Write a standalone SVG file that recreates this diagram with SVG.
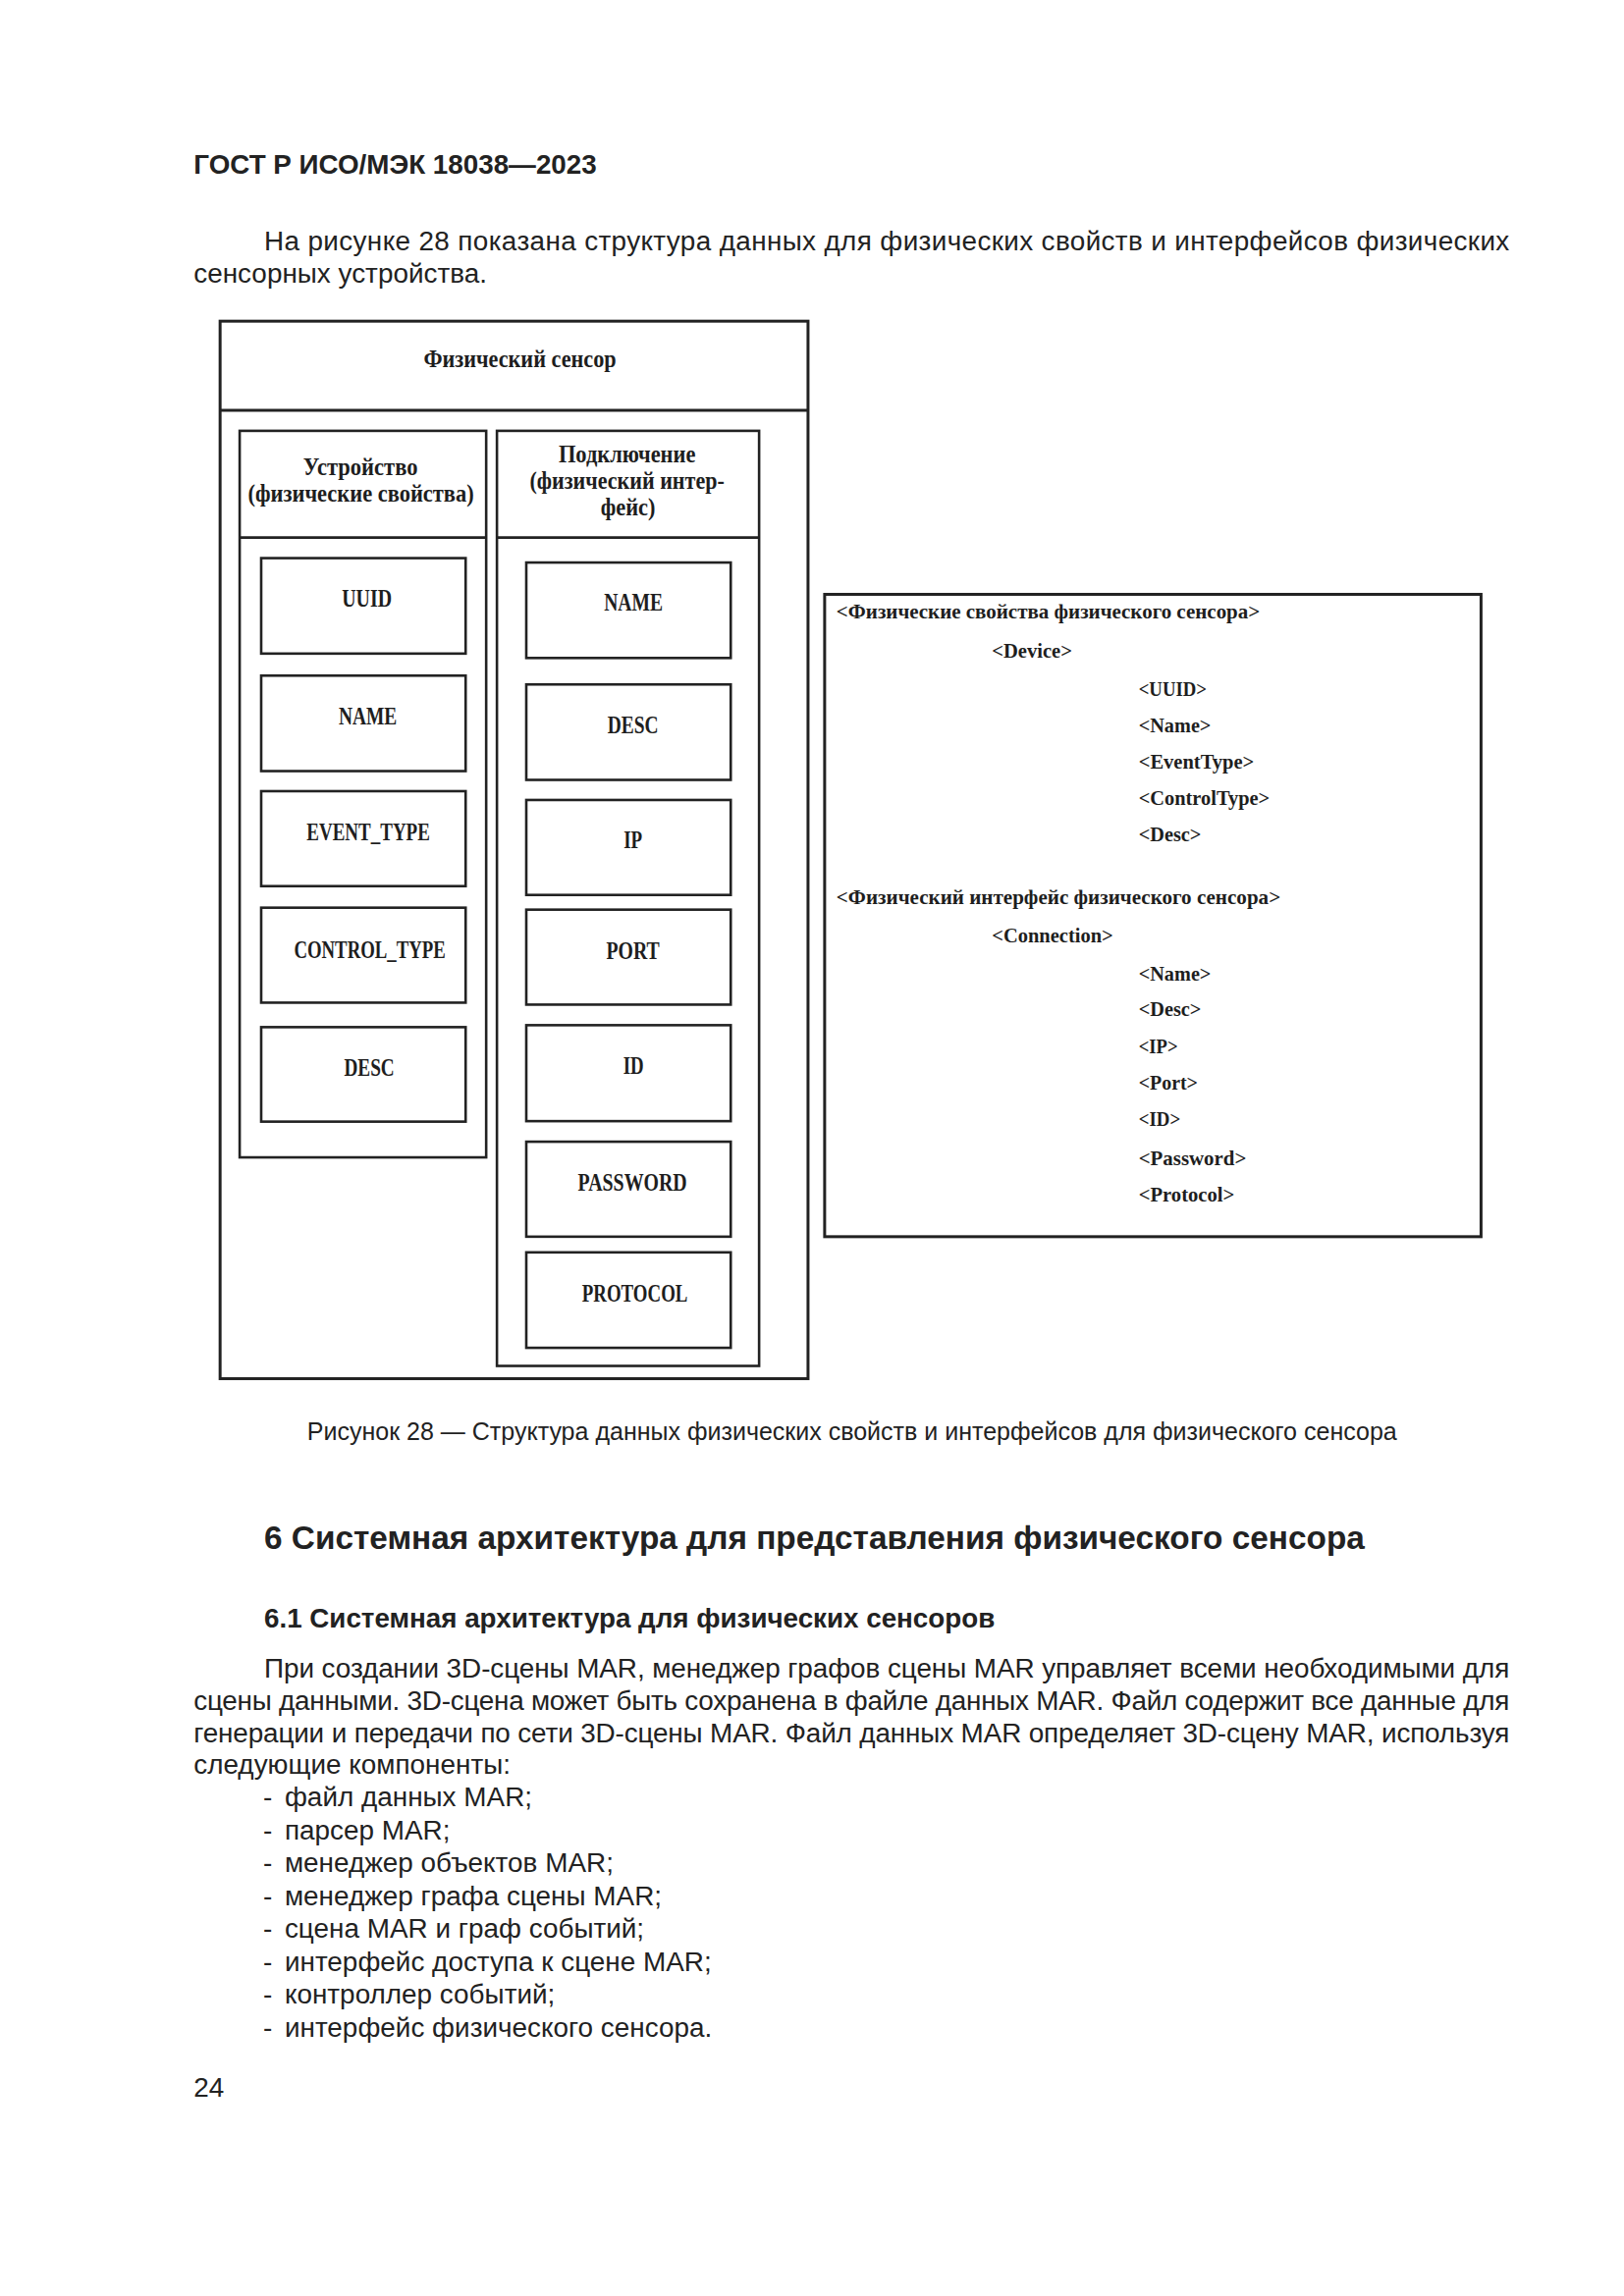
<svg xmlns="http://www.w3.org/2000/svg" width="1654" height="2339" viewBox="0 0 1654 2339">
<style>
.bg{fill:#ffffff}
.box{fill:none;stroke:#222;stroke-width:2.6}
.obox{fill:none;stroke:#222;stroke-width:3}
.dt{font-family:"Liberation Serif","DejaVu Serif",serif;font-weight:bold;font-size:24.5px;fill:#1e1e1e;text-anchor:middle}
.xt{font-family:"Liberation Serif","DejaVu Serif",serif;font-weight:bold;font-size:21.5px;fill:#1e1e1e}
.body{font-family:"Liberation Sans",Arial,sans-serif;font-size:28px;fill:#222}
.bold{font-weight:bold}
.cap{font-family:"Liberation Sans",Arial,sans-serif;font-size:25px;fill:#222;text-anchor:middle}
.h1{font-family:"Liberation Sans",Arial,sans-serif;font-size:33.5px;font-weight:bold;fill:#222}
</style>
<rect class="bg" x="0" y="0" width="1654" height="2339"/>
<g transform="scale(0.9963 0.9975)">
<g id="page-text">
<text class="body bold" x="198" y="177" textLength="412" lengthAdjust="spacingAndGlyphs">ГОСТ Р ИСО/МЭК 18038—2023</text>
<text class="body" x="270" y="256" textLength="1273" lengthAdjust="spacing">На рисунке 28 показана структура данных для физических свойств и интерфейсов физических</text>
<text class="body" x="198" y="289">сенсорных устройства.</text>
</g>

<g id="physical-sensor">
<rect class="obox" x="225" y="328" width="601" height="1080"/>
<line class="obox" x1="225" y1="419" x2="826" y2="419"/>
<text class="dt" x="531.5" y="375" textLength="197" lengthAdjust="spacingAndGlyphs">Физический сенсор</text>
</g>

<g id="device">
<rect class="box" x="245" y="440" width="252" height="742"/>
<line class="box" x1="245" y1="549" x2="497" y2="549"/>
<text class="dt" x="368.5" y="485" textLength="117" lengthAdjust="spacingAndGlyphs">Устройство</text>
<text class="dt" x="369" y="512" textLength="231" lengthAdjust="spacingAndGlyphs">(физические свойства)</text>
</g>
<g id="device-uuid">
<rect class="box" x="267" y="570" width="209" height="97.5"/>
<text class="dt" x="375" y="620" textLength="51" lengthAdjust="spacingAndGlyphs">UUID</text>
</g>
<g id="device-name">
<rect class="box" x="267" y="690" width="209" height="97.5"/>
<text class="dt" x="376" y="740" textLength="59.5" lengthAdjust="spacingAndGlyphs">NAME</text>
</g>
<g id="device-event-type">
<rect class="box" x="267" y="808" width="209" height="97"/>
<text class="dt" x="376.5" y="858" textLength="126" lengthAdjust="spacingAndGlyphs">EVENT_TYPE</text>
</g>
<g id="device-control-type">
<rect class="box" x="267" y="927" width="209" height="97"/>
<text class="dt" x="378" y="978" textLength="155" lengthAdjust="spacingAndGlyphs">CONTROL_TYPE</text>
</g>
<g id="device-desc">
<rect class="box" x="267" y="1049" width="209" height="96.5"/>
<text class="dt" x="377.5" y="1099" textLength="51.5" lengthAdjust="spacingAndGlyphs">DESC</text>
</g>

<g id="connection">
<rect class="box" x="508" y="440" width="268" height="955"/>
<line class="box" x1="508" y1="549" x2="776" y2="549"/>
<text class="dt" x="641" y="472" textLength="140" lengthAdjust="spacingAndGlyphs">Подключение</text>
<text class="dt" x="641" y="499" textLength="199" lengthAdjust="spacingAndGlyphs">(физический интер-</text>
<text class="dt" x="642" y="526" textLength="56" lengthAdjust="spacingAndGlyphs">фейс)</text>
</g>
<g id="conn-name">
<rect class="box" x="538" y="574.5" width="209" height="97.5"/>
<text class="dt" x="647.5" y="624" textLength="60" lengthAdjust="spacingAndGlyphs">NAME</text>
</g>
<g id="conn-desc">
<rect class="box" x="538" y="699" width="209" height="97.5"/>
<text class="dt" x="647" y="749" textLength="52" lengthAdjust="spacingAndGlyphs">DESC</text>
</g>
<g id="conn-ip">
<rect class="box" x="538" y="817" width="209" height="97"/>
<text class="dt" x="647" y="866" textLength="19" lengthAdjust="spacingAndGlyphs">IP</text>
</g>
<g id="conn-port">
<rect class="box" x="538" y="929" width="209" height="97"/>
<text class="dt" x="647" y="979" textLength="54.5" lengthAdjust="spacingAndGlyphs">PORT</text>
</g>
<g id="conn-id">
<rect class="box" x="538" y="1047" width="209" height="98"/>
<text class="dt" x="647.5" y="1097" textLength="21" lengthAdjust="spacingAndGlyphs">ID</text>
</g>
<g id="conn-password">
<rect class="box" x="538" y="1166" width="209" height="97"/>
<text class="dt" x="646.5" y="1216" textLength="111.5" lengthAdjust="spacingAndGlyphs">PASSWORD</text>
</g>
<g id="conn-protocol">
<rect class="box" x="538" y="1279" width="209" height="97.5"/>
<text class="dt" x="649" y="1329" textLength="108" lengthAdjust="spacingAndGlyphs">PROTOCOL</text>
</g>

<g id="xml-listing">
<rect class="obox" x="843" y="607" width="671" height="656"/>
<text class="xt" x="855" y="632" textLength="433" lengthAdjust="spacingAndGlyphs">&lt;Физические свойства физического сенсора&gt;</text>
<text class="xt" x="1014" y="672" textLength="82" lengthAdjust="spacingAndGlyphs">&lt;Device&gt;</text>
<text class="xt" x="1164" y="711" textLength="69.5" lengthAdjust="spacingAndGlyphs">&lt;UUID&gt;</text>
<text class="xt" x="1164" y="748" textLength="74" lengthAdjust="spacingAndGlyphs">&lt;Name&gt;</text>
<text class="xt" x="1164" y="785" textLength="118" lengthAdjust="spacingAndGlyphs">&lt;EventType&gt;</text>
<text class="xt" x="1164" y="822" textLength="134" lengthAdjust="spacingAndGlyphs">&lt;ControlType&gt;</text>
<text class="xt" x="1164" y="859" textLength="64" lengthAdjust="spacingAndGlyphs">&lt;Desc&gt;</text>
<text class="xt" x="855" y="923" textLength="454" lengthAdjust="spacingAndGlyphs">&lt;Физический интерфейс физического сенсора&gt;</text>
<text class="xt" x="1014" y="962" textLength="124" lengthAdjust="spacingAndGlyphs">&lt;Connection&gt;</text>
<text class="xt" x="1164" y="1002" textLength="74" lengthAdjust="spacingAndGlyphs">&lt;Name&gt;</text>
<text class="xt" x="1164" y="1038" textLength="64" lengthAdjust="spacingAndGlyphs">&lt;Desc&gt;</text>
<text class="xt" x="1164" y="1076" textLength="40" lengthAdjust="spacingAndGlyphs">&lt;IP&gt;</text>
<text class="xt" x="1164" y="1113" textLength="60.5" lengthAdjust="spacingAndGlyphs">&lt;Port&gt;</text>
<text class="xt" x="1164" y="1150" textLength="42.6" lengthAdjust="spacingAndGlyphs">&lt;ID&gt;</text>
<text class="xt" x="1164" y="1190" textLength="110" lengthAdjust="spacingAndGlyphs">&lt;Password&gt;</text>
<text class="xt" x="1164" y="1227" textLength="98" lengthAdjust="spacingAndGlyphs">&lt;Protocol&gt;</text>
</g>

<g id="connectors"></g>

<g id="page-text-2">
<text class="cap" x="871" y="1471" textLength="1114" lengthAdjust="spacingAndGlyphs">Рисунок 28 — Структура данных физических свойств и интерфейсов для физического сенсора</text>
<text class="h1" x="270" y="1582" textLength="1125" lengthAdjust="spacingAndGlyphs">6 Системная архитектура для представления физического сенсора</text>
<text class="body bold" x="270" y="1662" textLength="747" lengthAdjust="spacingAndGlyphs">6.1 Системная архитектура для физических сенсоров</text>
<text class="body" x="270" y="1713" textLength="1273" lengthAdjust="spacing">При создании 3D-сцены MAR, менеджер графов сцены MAR управляет всеми необходимыми для</text>
<text class="body" x="198" y="1746" textLength="1345" lengthAdjust="spacing">сцены данными. 3D-сцена может быть сохранена в файле данных MAR. Файл содержит все данные для</text>
<text class="body" x="198" y="1779" textLength="1345" lengthAdjust="spacing">генерации и передачи по сети 3D-сцены MAR. Файл данных MAR определяет 3D-сцену MAR, используя</text>
<text class="body" x="198" y="1812">следующие компоненты:</text>
<text class="body" x="269" y="1845">-</text><text class="body" x="291" y="1845">файл данных MAR;</text>
<text class="body" x="269" y="1879">-</text><text class="body" x="291" y="1879">парсер MAR;</text>
<text class="body" x="269" y="1912">-</text><text class="body" x="291" y="1912">менеджер объектов MAR;</text>
<text class="body" x="269" y="1946">-</text><text class="body" x="291" y="1946">менеджер графа сцены MAR;</text>
<text class="body" x="269" y="1979">-</text><text class="body" x="291" y="1979">сцена MAR и граф событий;</text>
<text class="body" x="269" y="2013">-</text><text class="body" x="291" y="2013">интерфейс доступа к сцене MAR;</text>
<text class="body" x="269" y="2046">-</text><text class="body" x="291" y="2046">контроллер событий;</text>
<text class="body" x="269" y="2080">-</text><text class="body" x="291" y="2080">интерфейс физического сенсора.</text>
<text class="body" x="198" y="2141">24</text>
</g>
</g>
</svg>
